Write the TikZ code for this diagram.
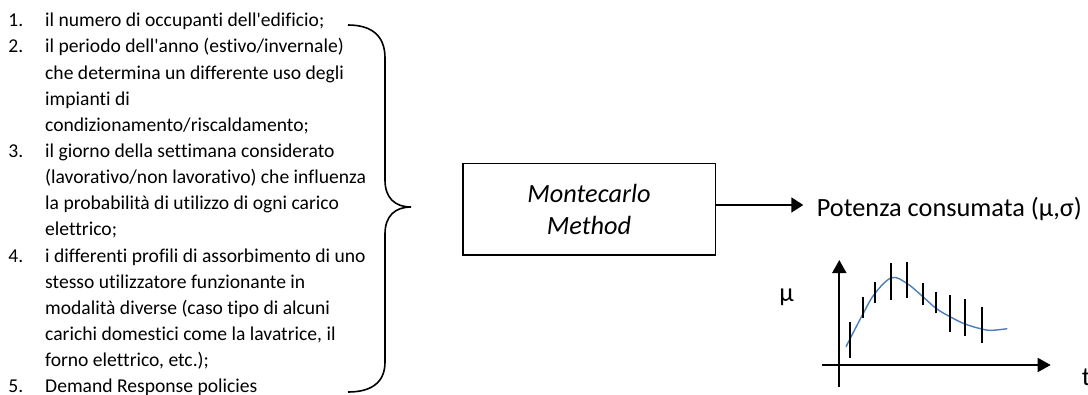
\documentclass[tikz,border=0pt]{standalone}
\usepackage{fontspec}
\setmainfont{Carlito}[Ligatures={TeX,NoCommon}]
\usetikzlibrary{arrows.meta}
\definecolor{curveblue}{RGB}{74,126,187}
\newcommand{\listfont}{\fontsize{19.6}{26.2}\selectfont}
\newcommand{\bigfont}{\fontsize{26.3}{32}\selectfont}
\begin{document}
\begin{tikzpicture}[x=1pt,y=-1pt,
  listtxt/.style={anchor=base west,inner sep=0pt,font=\listfont},
  bigtxt/.style={inner sep=0pt,font=\bigfont},
  mcbox/.style={draw,line width=1.3pt,minimum width=252.3pt,minimum height=91.7pt,inner sep=0pt,align=center,font=\bigfont\itshape},
  bracestyle/.style={line width=1.6pt},
  mainarrow/.style={line width=1.8pt,-{Triangle[length=12pt,width=15pt]}},
  axisarrow/.style={line width=1.8pt,-{Triangle[length=13pt,width=14pt]}},
  errbar/.style={line width=1.7pt},
  meancurve/.style={curveblue,line width=1.4pt}]
\useasboundingbox (0,0) rectangle (1088,394);
% list
\foreach \nm/\num/\k in {n1/1./0,n2/2./1,n3/3./5,n4/4./9,n5/5./14}
  \node[listtxt] (\nm) at (8.3,26.7+26.15*\k) {\num};
\node[listtxt] (l1) at (45,26.7) {il numero di occupanti dell\textquotesingle edificio;};
\node[listtxt] (l2) at (45,26.7+26.15*1) {il periodo dell\textquotesingle anno (estivo/invernale)};
\node[listtxt] (l3) at (45,26.7+26.15*2) {che determina un differente uso degli};
\node[listtxt] (l4) at (45,26.7+26.15*3) {impianti di};
\node[listtxt] (l5) at (45,26.7+26.15*4) {condizionamento/riscaldamento;};
\node[listtxt] (l6) at (45,26.7+26.15*5) {il giorno della settimana considerato};
\node[listtxt] (l7) at (45,26.7+26.15*6) {(lavorativo/non lavorativo) che influenza};
\node[listtxt] (l8) at (45,26.7+26.15*7) {la probabilità di utilizzo di ogni carico};
\node[listtxt] (l9) at (45,26.7+26.15*8) {elettrico;};
\node[listtxt] (l10) at (45,26.7+26.15*9) {i differenti profili di assorbimento di uno};
\node[listtxt] (l11) at (45,26.7+26.15*10) {stesso utilizzatore funzionante in};
\node[listtxt] (l12) at (45,26.7+26.15*11) {modalità diverse (caso tipo di alcuni};
\node[listtxt] (l13) at (45,26.7+26.15*12) {carichi domestici come la lavatrice, il};
\node[listtxt] (l14) at (45,26.7+26.15*13) {forno elettrico, etc.);};
\node[listtxt] (l15) at (45,26.7+26.15*14) {Demand Response policies};
% brace
\draw[bracestyle] (348,25) .. controls (372,25) and (385,36) .. (385,58)
  -- (385,180) .. controls (385,198) and (395,207) .. (411,207)
  .. controls (395,207) and (385,216) .. (385,234)
  -- (385,362) .. controls (385,382) and (372,392) .. (348,392);
% box
\node[mcbox] (mc) at (589,209.2) {Montecarlo\\Method};
\coordinate (ptip) at (803.3,205);
\draw[mainarrow] (mc.east |- ptip) -- (ptip);
\node[bigtxt,anchor=base west] (pot) at (816.7,216.7) {Potenza consumata (μ,σ)};
% graph
\coordinate (yb) at (839.3,386.7);
\coordinate (yt) at (839.3,260);
\coordinate (xl) at (821.7,365);
\coordinate (xr) at (1050.7,365);
\draw[axisarrow] (yb) -- (yt);
\draw[axisarrow] (xl) -- (xr);
\node[bigtxt,anchor=base] (mu) at (786.7,301) {μ};
\node[bigtxt,anchor=base west] (tl) at (1081.7,385) {t};
\draw[meancurve] plot[smooth,tension=0.6] coordinates {(846,346.7) (863.3,313.3) (875,293.3) (891.7,277.7) (906.7,283.3) (921,295) (936,308.3) (950,316.7) (965,324) (981.7,329) (991.7,330.3) (1007.3,328.7)};
\foreach \x/\a/\b in {850/321.7/358.3, 863.3/296.7/318.3, 875/281.7/303.3, 890.7/263.3/300, 906.7/261.7/298.3, 922.7/283.3/305, 936/291.7/313.3, 950/295/331.7, 965/299.3/336, 981.7/306.7/343.3}
  \draw[errbar] (\x,\a) -- (\x,\b);
\end{tikzpicture}
\end{document}
